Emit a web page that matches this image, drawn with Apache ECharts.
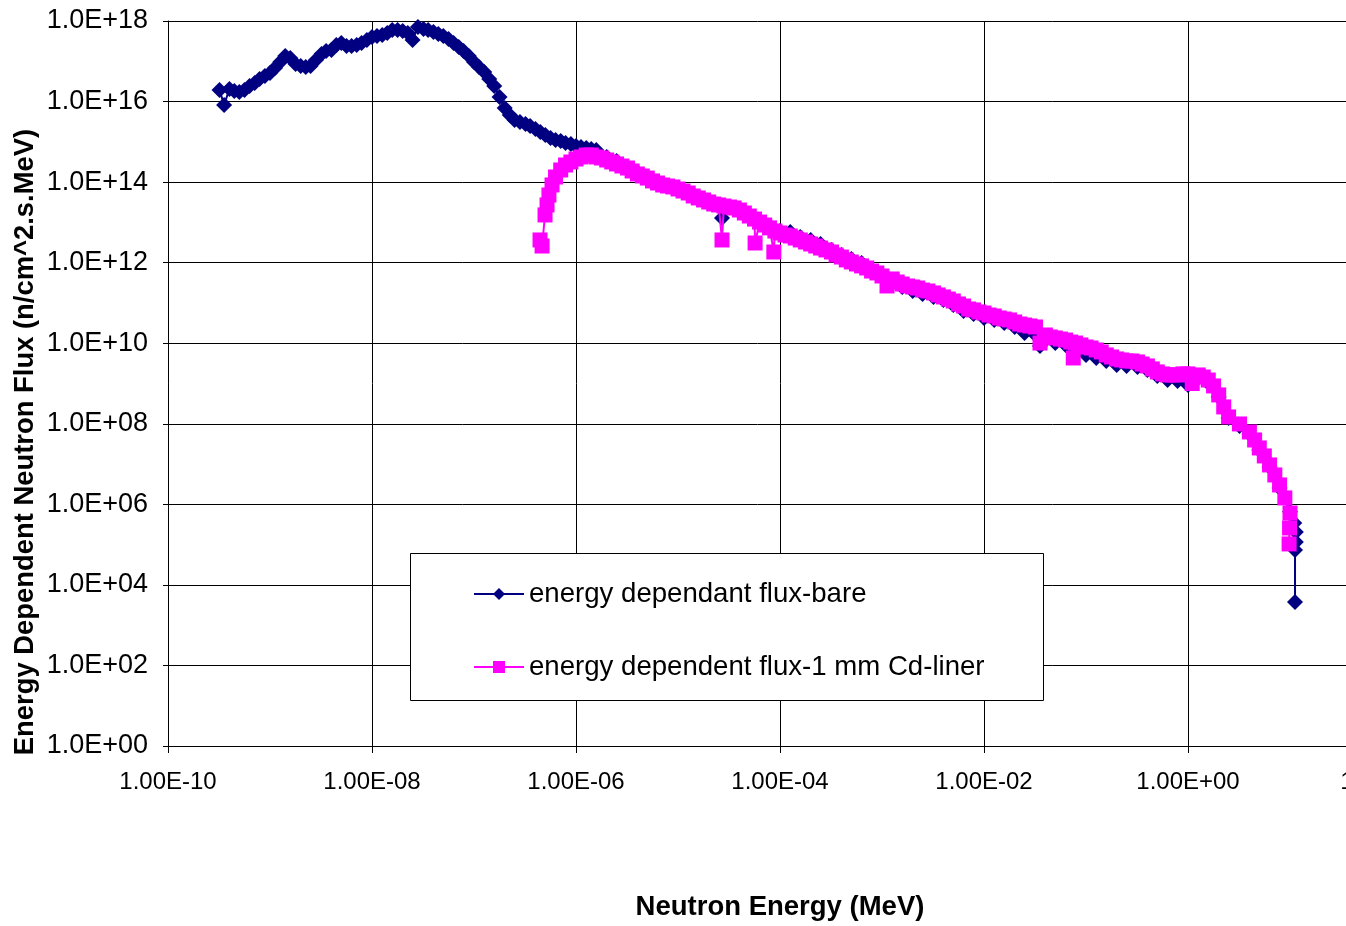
<!DOCTYPE html>
<html>
<head>
<meta charset="utf-8">
<script src="https://cdn.jsdelivr.net/npm/echarts@6/dist/echarts.min.js"></script>
<style>
  html, body { margin: 0; padding: 0; background: #fff; }
  #chart { width: 1346px; height: 926px; }
</style>
</head>
<body>
<div id="chart"></div>
<script>
// Axis extents (MeV on x, n/cm^2.s.MeV on y), both logarithmic
const energyRange = [1e-10, 1e2];
const fluxRange = [1, 1e18];
const decadeStep = 2;

const xAxisTitle = 'Neutron Energy (MeV)';
const yAxisTitle = 'Energy Dependent Neutron Flux (n/cm^2.s.MeV)';
const seriesNames = ['energy dependant flux-bare', 'energy dependent flux-1 mm Cd-liner'];

// [energy (MeV), flux] — bare detector
const bareSpectrum = [
  [3.2e-10, 1.94e16], [3.55e-10, 8.2e15], [4.0e-10, 2.05e16], [4.47e-10, 1.83e16],
  [5.0e-10, 1.73e16], [5.62e-10, 1.94e16], [6.3e-10, 2.43e16], [7.08e-10, 2.89e16],
  [7.9e-10, 3.63e16], [8.91e-10, 4.31e16], [1.0e-9, 5.12e16], [1.12e-9, 6.8e16],
  [1.26e-9, 9.6e16], [1.41e-9, 1.35e17], [1.58e-9, 1.21e17], [1.78e-9, 8.55e16],
  [2.0e-9, 7.6e16], [2.24e-9, 7.2e16], [2.5e-9, 7.6e16], [2.82e-9, 1.08e17],
  [3.2e-9, 1.52e17], [3.55e-9, 1.8e17], [4.0e-9, 1.91e17], [4.47e-9, 2.54e17],
  [5.0e-9, 2.84e17], [5.62e-9, 2.39e17], [6.3e-9, 2.39e17], [7.08e-9, 2.54e17],
  [7.9e-9, 2.84e17], [8.91e-9, 3.37e17], [1.0e-8, 4.0e17], [1.12e-8, 4.25e17],
  [1.26e-8, 4.5e17], [1.41e-8, 5.04e17], [1.58e-8, 5.98e17], [1.78e-8, 5.98e17],
  [2.0e-8, 5.65e17], [2.24e-8, 5.04e17], [2.5e-8, 3.37e17], [2.82e-8, 7.1e17],
  [3.2e-8, 6.3e17], [3.55e-8, 5.98e17], [4.0e-8, 5.33e17], [4.47e-8, 4.75e17],
  [5.0e-8, 4.25e17], [5.62e-8, 3.57e17], [6.3e-8, 2.84e17], [7.08e-8, 2.26e17],
  [7.9e-8, 1.8e17], [8.9e-8, 1.35e17], [1.0e-7, 9.6e16], [1.12e-7, 7.2e16],
  [1.26e-7, 5.42e16], [1.41e-7, 3.63e16], [1.58e-7, 2.43e16], [1.78e-7, 1.30e16],
  [2.0e-7, 6.9e15], [2.24e-7, 4.65e15], [2.5e-7, 3.49e15], [2.82e-7, 3.11e15],
  [3.2e-7, 2.77e15], [3.55e-7, 2.47e15], [4.0e-7, 2.08e15], [4.47e-7, 1.75e15],
  [5.0e-7, 1.48e15], [5.62e-7, 1.24e15], [6.3e-7, 1.11e15], [7.08e-7, 1.05e15],
  [7.9e-7, 9.4e14], [8.91e-7, 8.8e14], [1.0e-6, 7.9e14], [1.12e-6, 7.45e14],
  [1.26e-6, 7.0e14], [1.41e-6, 6.64e14], [1.58e-6, 6.3e14], [2.0e-6, 4.21e14],
  [2.5e-6, 3.35e14], [3.2e-6, 2.38e14], [4.0e-6, 1.79e14], [5.0e-6, 1.34e14],
  [6.3e-6, 1.01e14], [7.9e-6, 8.0e13], [1.0e-5, 6.75e13], [1.26e-5, 5.37e13],
  [1.58e-5, 4.04e13], [2.0e-5, 3.21e13], [2.5e-5, 2.71e13], [2.7e-5, 1.29e13],
  [3.2e-5, 2.41e13], [4.0e-5, 2.03e13], [5.0e-5, 1.53e13], [6.3e-5, 1.08e13],
  [7.9e-5, 8.1e12], [1.0e-4, 6.1e12], [1.26e-4, 5.78e12], [1.58e-4, 4.34e12],
  [2.0e-4, 3.66e12], [2.5e-4, 2.91e12], [3.2e-4, 2.07e12], [4.0e-4, 1.55e12],
  [5.0e-4, 1.23e12], [6.3e-4, 9.8e11], [7.9e-4, 6.97e11], [1.0e-3, 4.94e11],
  [1.26e-3, 3.51e11], [1.58e-3, 2.49e11], [2.0e-3, 1.98e11], [2.5e-3, 1.67e11],
  [3.2e-3, 1.41e11], [4.0e-3, 1.19e11], [5.0e-3, 8.9e10], [6.3e-3, 6.31e10],
  [7.9e-3, 5.32e10], [1.0e-2, 4.24e10], [1.26e-2, 3.78e10], [1.58e-2, 3.18e10],
  [2.0e-2, 2.53e10], [2.5e-2, 1.79e10], [3.2e-2, 1.6e10], [3.54e-2, 8.5e9],
  [4.0e-2, 1.27e10], [5.0e-2, 1.01e10], [6.3e-2, 9.06e9], [7.9e-2, 6.8e9],
  [1.0e-1, 5.1e9], [1.26e-1, 4.3e9], [1.58e-1, 3.62e9], [2.0e-1, 2.88e9],
  [2.5e-1, 2.72e9], [3.2e-1, 2.57e9], [4.0e-1, 2.17e9], [5.0e-1, 1.54e9],
  [6.3e-1, 1.22e9], [7.9e-1, 1.16e9], [1.0, 9.2e8], [1.26, 1.37e9],
  [1.58, 1.03e9], [2.0, 4.63e8], [2.5, 1.39e8], [3.2, 8.8e7],
  [4.0, 5.58e7], [5.0, 2.24e7], [6.3, 8.5e6], [7.9, 2.55e6],
  [10.0, 6.5e5], [11.0, 3.44e5], [11.4, 2.06e5], [11.4, 1.16e5],
  [11.2, 7.4e4], [11.2, 3.77e3]
];

// [energy (MeV), flux] — detector behind 1 mm cadmium liner
const cdLinerSpectrum = [
  [4.44e-7, 3.66e12], [4.65e-7, 2.59e12], [4.97e-7, 1.53e13], [5.2e-7, 2.71e13],
  [5.43e-7, 4.79e13], [5.82e-7, 8.5e13], [6.3e-7, 1.34e14], [7.08e-7, 2.0e14],
  [7.9e-7, 2.66e14], [8.91e-7, 3.16e14], [1.0e-6, 3.75e14], [1.12e-6, 4.21e14],
  [1.26e-6, 4.71e14], [1.41e-6, 4.71e14], [1.58e-6, 4.21e14], [1.78e-6, 3.97e14],
  [2.0e-6, 3.54e14], [2.24e-6, 3.16e14], [2.5e-6, 2.82e14], [2.82e-6, 2.51e14],
  [3.2e-6, 2.24e14], [3.55e-6, 1.89e14], [4.0e-6, 1.59e14], [4.47e-6, 1.42e14],
  [5.0e-6, 1.26e14], [5.62e-6, 1.07e14], [6.3e-6, 9.5e13], [7.08e-6, 8.48e13],
  [7.9e-6, 8.0e13], [8.91e-6, 7.57e13], [1.0e-5, 6.75e13], [1.12e-5, 6.01e13],
  [1.26e-5, 5.37e13], [1.41e-5, 4.52e13], [1.58e-5, 4.04e13], [1.78e-5, 3.6e13],
  [2.0e-5, 3.21e13], [2.24e-5, 2.86e13], [2.5e-5, 2.71e13], [2.7e-5, 3.66e12],
  [2.82e-5, 2.55e13], [3.2e-5, 2.41e13], [3.55e-5, 2.28e13], [4.0e-5, 2.03e13],
  [4.47e-5, 1.71e13], [5.0e-5, 1.44e13], [5.62e-5, 1.21e13], [5.7e-5, 3.08e12],
  [6.3e-5, 1.02e13], [7.08e-5, 8.6e12], [7.9e-5, 7.3e12], [8.7e-5, 1.84e12],
  [8.91e-5, 6.11e12], [1.0e-4, 5.46e12], [1.12e-4, 4.86e12], [1.26e-4, 4.6e12],
  [1.41e-4, 4.09e12], [1.58e-4, 3.66e12], [1.78e-4, 3.26e12], [2.0e-4, 2.91e12],
  [2.24e-4, 2.59e12], [2.5e-4, 2.31e12], [2.82e-4, 2.07e12], [3.2e-4, 1.84e12],
  [3.55e-4, 1.55e12], [4.0e-4, 1.38e12], [4.47e-4, 1.17e12], [5.0e-4, 1.04e12],
  [5.62e-4, 9.27e11], [6.3e-4, 8.3e11], [7.08e-4, 7.38e11], [7.9e-4, 6.2e11],
  [8.91e-4, 5.55e11], [1.0e-3, 4.67e11], [1.12e-3, 2.64e11], [1.26e-3, 3.94e11],
  [1.41e-3, 3.31e11], [1.58e-3, 2.95e11], [1.78e-3, 2.64e11], [2.0e-3, 2.49e11],
  [2.24e-3, 2.35e11], [2.5e-3, 2.09e11], [2.82e-3, 1.98e11], [3.2e-3, 1.77e11],
  [3.55e-3, 1.58e11], [4.0e-3, 1.41e11], [4.47e-3, 1.25e11], [5.0e-3, 1.12e11],
  [5.62e-3, 9.42e10], [6.3e-3, 8.4e10], [7.08e-3, 7.08e10], [7.9e-3, 6.7e10],
  [8.91e-3, 5.97e10], [1.0e-2, 5.62e10], [1.12e-2, 5.02e10], [1.26e-2, 4.74e10],
  [1.41e-2, 4.24e10], [1.58e-2, 3.99e10], [1.78e-2, 3.78e10], [2.0e-2, 3.37e10],
  [2.24e-2, 3.0e10], [2.5e-2, 2.83e10], [2.82e-2, 2.68e10], [3.2e-2, 2.53e10],
  [3.54e-2, 1.01e10], [4.0e-2, 1.6e10], [4.47e-2, 1.43e10], [5.0e-2, 1.35e10],
  [5.62e-2, 1.27e10], [6.3e-2, 1.2e10], [7.08e-2, 1.07e10], [7.5e-2, 4.3e9],
  [7.9e-2, 1.01e10], [8.91e-2, 9.06e9], [1.0e-1, 8.07e9], [1.12e-1, 7.62e9],
  [1.26e-1, 6.8e9], [1.41e-1, 6.07e9], [1.58e-1, 5.12e9], [1.78e-1, 4.56e9],
  [2.0e-1, 4.07e9], [2.24e-1, 3.84e9], [2.5e-1, 3.63e9], [2.82e-1, 3.62e9],
  [3.2e-1, 3.43e9], [3.55e-1, 3.05e9], [4.0e-1, 2.73e9], [4.47e-1, 2.3e9],
  [5.0e-1, 1.94e9], [5.62e-1, 1.73e9], [6.3e-1, 1.63e9], [7.08e-1, 1.63e9],
  [7.9e-1, 1.63e9], [8.91e-1, 1.73e9], [1.0, 1.73e9], [1.1, 1.0e9],
  [1.26, 1.63e9], [1.41, 1.45e9], [1.58, 1.22e9], [1.78, 8.7e8],
  [2.0, 5.2e8], [2.24, 2.62e8], [2.5, 1.48e8], [3.2, 9.9e7],
  [4.0, 6.26e7], [4.5, 3.96e7], [5.0, 2.51e7], [5.6, 1.59e7],
  [6.3, 9.5e6], [7.1, 5.36e6], [7.9, 3.03e6], [8.9, 1.44e6],
  [10.0, 6.1e5], [9.9, 2.59e5], [9.8, 1.04e5]
];

const FONT = '"Liberation Sans", Arial, sans-serif';

function decadeLabel(value, zeros) {
  const e = Math.round(Math.log10(value));
  const mag = Math.abs(e);
  return '1.' + '0'.repeat(zeros) + 'E' + (e < 0 ? '-' : '+') + (mag < 10 ? '0' : '') + mag;
}

const chart = echarts.init(document.getElementById('chart'), null, { renderer: 'canvas' });

chart.setOption({
  animation: false,
  backgroundColor: '#fff',
  // the plot runs past the right edge of the page, so the 1E+02 column is cut off
  grid: { left: 168, top: 21, width: 1224, height: 725, containLabel: false, outerBoundsMode: 'none' },
  xAxis: {
    type: 'log',
    logBase: 10,
    min: energyRange[0],
    max: energyRange[1],
    interval: decadeStep,
    name: xAxisTitle,
    nameLocation: 'middle',
    nameGap: 147,
    nameTextStyle: { fontFamily: FONT, fontSize: 27.5, fontWeight: 'bold', color: '#000' },
    axisLine: { show: true, lineStyle: { color: '#000', width: 1 } },
    axisTick: { show: true, inside: false, length: 7, lineStyle: { color: '#000' } },
    axisLabel: {
      margin: 24,
      color: '#000',
      fontFamily: FONT,
      fontSize: 24,
      formatter: v => decadeLabel(v, 2)
    },
    splitLine: { show: true, lineStyle: { color: '#000', width: 1 } },
    minorTick: { show: false },
    minorSplitLine: { show: false }
  },
  yAxis: {
    type: 'log',
    logBase: 10,
    min: fluxRange[0],
    max: fluxRange[1],
    interval: decadeStep,
    axisLine: { show: true, lineStyle: { color: '#000', width: 1 } },
    axisTick: { show: true, inside: false, length: 5, lineStyle: { color: '#000' } },
    axisLabel: {
      margin: 20,
      color: '#000',
      fontFamily: FONT,
      fontSize: 27,
      formatter: v => decadeLabel(v, 1)
    },
    splitLine: { show: true, lineStyle: { color: '#000', width: 1 } }
  },
  legend: {
    orient: 'vertical',
    left: 473,
    top: 579,
    itemWidth: 50,
    itemHeight: 15,
    itemGap: 43,
    padding: 0,
    textStyle: { fontFamily: FONT, fontSize: 27.6, color: '#000', lineHeight: 30 },
    data: seriesNames,
    z: 6
  },
  graphic: [
    {
      type: 'rect',
      z: 5,
      shape: { x: 410.5, y: 553.5, width: 633, height: 147 },
      style: { fill: '#fff', stroke: '#000', lineWidth: 1 }
    },
    {
      type: 'text',
      z: 5,
      x: 25,
      y: 442,
      rotation: Math.PI / 2,
      style: {
        text: yAxisTitle,
        font: 'bold 27.4px ' + FONT,
        fill: '#000',
        textAlign: 'center',
        textVerticalAlign: 'middle'
      }
    }
  ],
  series: [
    {
      name: seriesNames[0],
      type: 'line',
      data: bareSpectrum,
      symbol: 'diamond',
      symbolSize: 16,
      showSymbol: true,
      color: '#000080',
      lineStyle: { color: '#000080', width: 2 },
      itemStyle: { color: '#000080' },
      emphasis: { disabled: true },
      z: 2
    },
    {
      name: seriesNames[1],
      type: 'line',
      data: cdLinerSpectrum,
      symbol: 'rect',
      symbolSize: 15,
      showSymbol: true,
      color: '#ff00ff',
      lineStyle: { color: '#ff00ff', width: 2 },
      itemStyle: { color: '#ff00ff' },
      emphasis: { disabled: true },
      z: 3
    }
  ]
});
</script>
</body>
</html>
